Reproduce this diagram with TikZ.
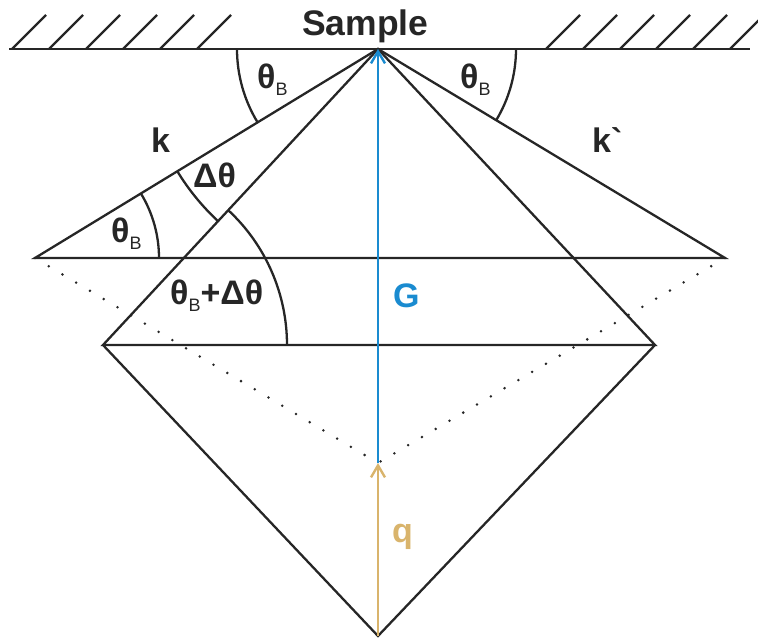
\documentclass[tikz,border=0pt]{standalone}
\usepackage{fontspec}
\setmainfont{Liberation Sans}
\usetikzlibrary{arrows.meta}
\definecolor{ink}{HTML}{262626}
\definecolor{gblue}{HTML}{1A8BD0}
\definecolor{qtan}{HTML}{D9B46C}
\newcommand\lblfont{\fontsize{34}{40}\selectfont\bfseries}
\newcommand\subB{\raisebox{-7pt}{\fontsize{18}{18}\selectfont\mdseries B}}
\begin{document}
\begin{tikzpicture}[x=1pt,y=1pt,
  ln/.style={draw=ink,line width=2.3pt},
  dotline/.style={draw=ink,line width=2.8pt,line cap=round,dash pattern=on 0pt off 16pt},
  hatch/.style={draw=ink,line width=2.3pt},
  lbl/.style={inner sep=0pt,anchor=base west,text=ink,font=\lblfont},
  vec/.style={line width=2.4pt,-{Straight Barb[length=12pt,width=14pt,line width=2.4pt]}}
]
\path[use as bounding box] (0,0) rectangle (758,641);
% points
\coordinate (A) at (378,592);
\coordinate (L1) at (35,383);
\coordinate (R1) at (725,383);
\coordinate (L2) at (103,296);
\coordinate (R2) at (655,296);
\coordinate (B) at (378,5);
\coordinate (Q) at (378,178);
\coordinate (S0) at (9,592);
\coordinate (S1) at (750,592);
% surface and hatching
\draw[ln] (S0) -- (S1);
\foreach \x in {12,49,86,123,160,197,546,583,620,656,693,730}
  \draw[hatch] (\x,592) -- ++(34,34);
% dotted lines
\draw[dotline] (L1) -- (Q);
\draw[dotline] (R1) -- (Q);
% main lines
\draw[ln] (A) -- (L1) -- (R1) -- cycle;
\draw[ln] (A) -- (L2) -- (R2) -- cycle;
\draw[ln] (L2) -- (B) -- (R2);
% arcs
\draw[ln] ([shift={(180:141)}]A) arc[start angle=180,end angle=211.4,radius=141];
\draw[ln] ([shift={(0:138)}]A) arc[start angle=0,end angle=-31.1,radius=138];
\draw[ln] ([shift={(211.4:235)}]A) arc[start angle=211.4,end angle=227.1,radius=235];
\draw[ln] ([shift={(0:124)}]L1) arc[start angle=0,end angle=31.4,radius=124];
\draw[ln] ([shift={(0:184)}]L2) arc[start angle=0,end angle=47.1,radius=184];
% vectors
\draw[vec,draw=qtan] (B) -- (Q);
\draw[vec,draw=gblue] (Q) -- (A);
% labels
\node[lbl,font=\fontsize{35.5}{40}\selectfont\bfseries] (sample) at (302,605) {Sample};
\node[lbl] (tb1) at (257,552) {θ\subB};
\node[lbl] (tb2) at (460,552) {θ\subB};
\node[lbl] (tb3) at (111,398) {θ\subB};
\node[lbl] (dt) at (193,453) {Δθ};
\node[lbl] (tbdt) at (170,336) {θ\subB+Δθ};
\node[lbl] (k) at (151,488) {k};
\node[lbl] (kp) at (592,488) {k\textasciigrave};
\node[lbl,text=gblue] (G) at (393,333) {G};
\node[lbl,text=qtan] (q) at (392,99) {q};
\end{tikzpicture}
\end{document}
